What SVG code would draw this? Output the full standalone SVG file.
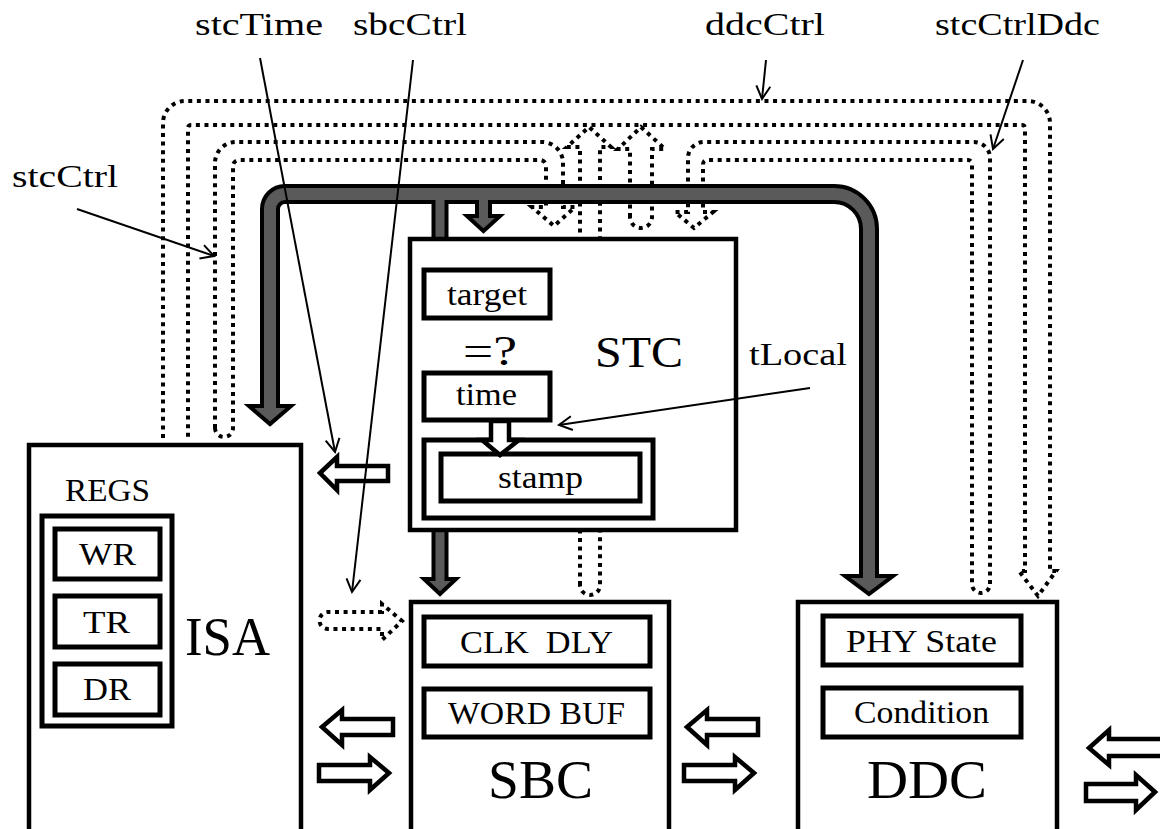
<svg xmlns="http://www.w3.org/2000/svg" width="1160" height="829" viewBox="0 0 1160 829">
  <defs>
    <style>
      .box { fill: #fff; stroke: #000; stroke-width: 4.5; }
      .in { fill: #fff; stroke: #000; stroke-width: 5; }
      .t { font-family: "Liberation Serif", "Times New Roman", serif; fill: #000; font-size: 31px; }
      .big { font-size: 54px; }
      .dot { fill: none; stroke: #000; stroke-width: 4; stroke-dasharray: 4 4.6; }
      .busO { fill: none; stroke: #000; stroke-width: 20; }
      .busOs { fill: none; stroke: #000; stroke-width: 17; }
      .busI { fill: none; stroke: #5a5a5a; stroke-width: 12; }
      .busIs { fill: none; stroke: #5a5a5a; stroke-width: 9; }
      .head { fill: #5a5a5a; stroke: #000; stroke-width: 4; stroke-linejoin: miter; }
      .hollow { fill: #fff; stroke: #000; stroke-width: 4.5; stroke-linejoin: miter; }
      .lbl { fill: none; stroke: #000; stroke-width: 2; }
    </style>
    <marker id="tip" viewBox="-15 -9 17 18" refX="0" refY="0" markerWidth="17" markerHeight="18" markerUnits="userSpaceOnUse" orient="auto">
      <path d="M-13,-7 L0,0 L-13,7" fill="none" stroke="#000" stroke-width="2"/>
    </marker>
  </defs>

  <!-- dotted control channels (drawn first, the bus and boxes sit on top) -->
  <g id="connectors">
    <!-- ddcCtrl: ISA -> DDC -->
    <path class="dot" d="M163 438 L163 123 A22 22 0 0 1 185 101 L1028 101 A22 22 0 0 1 1050 123 L1050 571 L1056 571 L1038 596 L1019 571 L1025 571 L1025 128 A3 3 0 0 0 1022 125 L191 125 A3 3 0 0 0 188 128 L188 438"/>
    <!-- stcCtrl: ISA -> STC -->
    <path class="dot" d="M215 428 L215 163 A21 21 0 0 1 236 142 L542 142 A21 21 0 0 1 563 163 L563 207 L575 207 L554 226 L532 207 L546 207 L546 166 A6 6 0 0 0 540 160 L239 160 A6 6 0 0 0 233 166 L233 428 A9 9 0 0 1 215 428 Z"/>
    <!-- stcCtrlDdc: DDC -> STC -->
    <path class="dot" d="M990 584 L990 158 A16 16 0 0 0 974 142 L704 142 A16 16 0 0 0 688 158 L688 212 L675 212 L694 228 L713 212 L703 212 L703 164 A4 4 0 0 1 707 160 L968 160 A4 4 0 0 1 972 164 L972 584 A9 9 0 0 0 990 584 Z"/>
    <!-- upward channel from SBC -->
    <path class="dot" d="M580 585 L580 147 L567 147 L589 127 L611 147 L600 147 L600 585 A10 10 0 0 1 580 585 Z"/>
    <!-- upward channel from STC -->
    <path class="dot" d="M630 217 L630 149 L618 149 L641 127 L665 149 L652 149 L652 217 A11 11 0 0 1 630 217 Z"/>
    <!-- sbcCtrl into SBC -->
    <path class="dot" d="M382 612 L328 612 A8 8 0 0 0 328 629 L382 629 L382 640 L402 621 L382 604 Z"/>

    <!-- shared data bus -->
    <path class="busO" d="M270 405 L270 209 A15 15 0 0 1 285 194 L834 194 A35 35 0 0 1 869 229 L869 576"/>
    <path class="busOs" d="M440 194 L440 579"/>
    <path class="busOs" d="M483.5 194 L483.5 216"/>
    <polygon class="head" points="249,406 291,406 270,424"/>
    <polygon class="head" points="845,576 893,576 869,594"/>
    <polygon class="head" points="467,216 500,216 483.5,231"/>
    <polygon class="head" points="424,579 456,579 440,594"/>
    <path class="busI" d="M270 408 L270 209 A15 15 0 0 1 285 194 L834 194 A35 35 0 0 1 869 229 L869 578"/>
    <path class="busIs" d="M440 194 L440 581"/>
    <path class="busIs" d="M483.5 194 L483.5 218"/>
  </g>

  <!-- ISA -->
  <g id="isa">
    <rect class="box" x="29" y="445" width="272" height="400"/>
    <text class="t" x="65" y="501" textLength="85" lengthAdjust="spacingAndGlyphs">REGS</text>
    <rect class="in" x="42" y="516" width="130" height="210"/>
    <rect class="in" x="55" y="529" width="105" height="50"/>
    <text class="t" x="79" y="565" textLength="57" lengthAdjust="spacingAndGlyphs">WR</text>
    <rect class="in" x="55" y="596" width="105" height="51"/>
    <text class="t" x="83" y="633" textLength="47" lengthAdjust="spacingAndGlyphs">TR</text>
    <rect class="in" x="55" y="664" width="105" height="51"/>
    <text class="t" x="83" y="700" textLength="48" lengthAdjust="spacingAndGlyphs">DR</text>
    <text class="t" x="185" y="655" style="font-size:55px" textLength="85" lengthAdjust="spacingAndGlyphs">ISA</text>
  </g>

  <!-- STC -->
  <g id="stc">
    <rect class="box" x="410" y="239" width="326" height="291"/>
    <rect class="in" x="424" y="270" width="126" height="48"/>
    <text class="t" x="447" y="305" textLength="80" lengthAdjust="spacingAndGlyphs">target</text>
    <text class="t" x="463" y="365" style="font-size:42px" textLength="54" lengthAdjust="spacingAndGlyphs">=?</text>
    <text class="t" x="595" y="367" style="font-size:45px" textLength="88" lengthAdjust="spacingAndGlyphs">STC</text>
    <rect class="in" x="424" y="440" width="229" height="78"/>
    <rect class="in" x="441" y="454" width="199" height="47"/>
    <text class="t" x="498" y="488" textLength="85" lengthAdjust="spacingAndGlyphs">stamp</text>
    <polygon class="hollow" points="491,421 509,421 509,440 519,440 500,455 482,440 491,440"/>
    <rect class="in" x="424" y="373" width="126" height="47"/>
    <text class="t" x="456" y="405" textLength="61" lengthAdjust="spacingAndGlyphs">time</text>
  </g>

  <!-- SBC -->
  <g id="sbc">
    <rect class="box" x="411" y="602" width="258" height="240"/>
    <rect class="in" x="424" y="617" width="226" height="49"/>
    <text class="t" x="460" y="653" xml:space="preserve" textLength="153" lengthAdjust="spacingAndGlyphs">CLK  DLY</text>
    <rect class="in" x="424" y="689" width="226" height="48"/>
    <text class="t" x="448" y="724" textLength="177" lengthAdjust="spacingAndGlyphs">WORD BUF</text>
    <text class="t big" x="488" y="798" textLength="105" lengthAdjust="spacingAndGlyphs">SBC</text>
  </g>

  <!-- DDC -->
  <g id="ddc">
    <rect class="box" x="798" y="602" width="259" height="240"/>
    <rect class="in" x="823" y="616" width="198" height="49"/>
    <text class="t" x="846" y="652" textLength="151" lengthAdjust="spacingAndGlyphs">PHY State</text>
    <rect class="in" x="823" y="688" width="198" height="49"/>
    <text class="t" x="854" y="723" textLength="135" lengthAdjust="spacingAndGlyphs">Condition</text>
    <text class="t big" x="867" y="798" textLength="120" lengthAdjust="spacingAndGlyphs">DDC</text>
  </g>

  <!-- data transfer arrows -->
  <g id="transfers">
    <polygon class="hollow" points="320,473 337,457 337,466 388,466 388,481 337,481 337,490"/>
    <polygon class="hollow" points="322,727 342,710 342,719 393,719 393,735 342,735 342,745"/>
    <polygon class="hollow" points="389,773 370,757 370,765 319,765 319,781 370,781 370,790"/>
    <polygon class="hollow" points="687,727 707,710 707,719 758,719 758,735 707,735 707,745"/>
    <polygon class="hollow" points="754,773 735,757 735,765 684,765 684,781 735,781 735,790"/>
    <polygon class="hollow" points="1089,748 1109,730 1109,739 1175,739 1175,756 1109,756 1109,765"/>
    <polygon class="hollow" points="1155,792 1136,775 1136,784 1086,784 1086,801 1136,801 1136,810"/>
  </g>

  <!-- signal names -->
  <g id="labels">
    <text class="t" x="195" y="35" textLength="128" lengthAdjust="spacingAndGlyphs">stcTime</text>
    <text class="t" x="353" y="35" textLength="114" lengthAdjust="spacingAndGlyphs">sbcCtrl</text>
    <text class="t" x="705" y="35" textLength="120" lengthAdjust="spacingAndGlyphs">ddcCtrl</text>
    <text class="t" x="935" y="35" textLength="165" lengthAdjust="spacingAndGlyphs">stcCtrlDdc</text>
    <text class="t" x="12" y="187" textLength="106" lengthAdjust="spacingAndGlyphs">stcCtrl</text>
    <text class="t" x="749" y="365" textLength="98" lengthAdjust="spacingAndGlyphs">tLocal</text>
    <line class="lbl" x1="77" y1="209" x2="214" y2="256" marker-end="url(#tip)"/>
    <line class="lbl" x1="260" y1="58" x2="335" y2="452" marker-end="url(#tip)"/>
    <line class="lbl" x1="413" y1="60" x2="352" y2="592" marker-end="url(#tip)"/>
    <line class="lbl" x1="766" y1="60" x2="762" y2="99" marker-end="url(#tip)"/>
    <line class="lbl" x1="1023" y1="60" x2="993" y2="149" marker-end="url(#tip)"/>
    <line class="lbl" x1="810" y1="388" x2="559" y2="425" marker-end="url(#tip)"/>
  </g>
</svg>
